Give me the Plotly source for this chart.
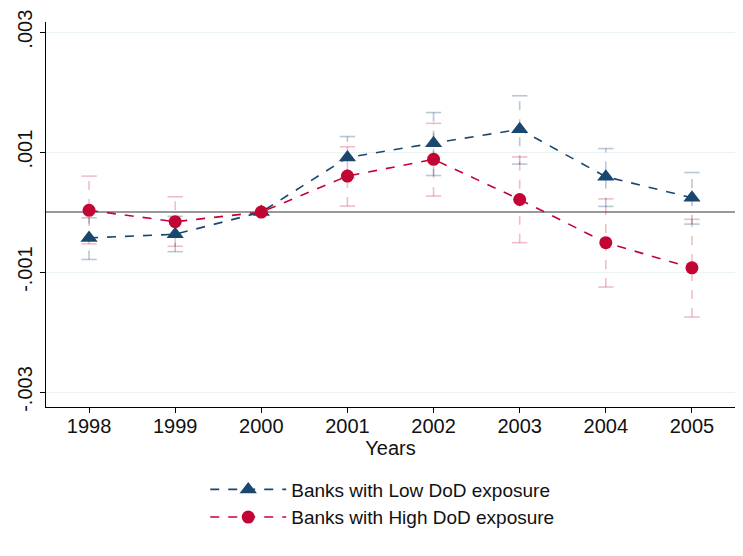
import plotly.graph_objects as go

# Event-study estimates by year (2000 is the reference year)
years = [1998, 1999, 2000, 2001, 2002, 2003, 2004, 2005]

low_coef = [-0.00043, -0.00037, 0.0, 0.00091, 0.00115, 0.00138, 0.00059, 0.00024]
low_ci_lo = [-0.00079, -0.00066, None, 0.00057, 0.00061, 0.00080, 0.000095, -0.00020]
low_ci_hi = [-0.000095, -0.00007, None, 0.00126, 0.00166, 0.00194, 0.00106, 0.00066]

high_coef = [0.00003, -0.00016, 0.0, 0.00060, 0.00088, 0.00021, -0.00051, -0.00093]
high_ci_lo = [-0.00053, -0.00057, None, 0.00010, 0.000267, -0.00051, -0.00125, -0.00175]
high_ci_hi = [0.00060, 0.000255, None, 0.00109, 0.00148, 0.00092, 0.00022, -0.00012]

y_tickvals = [-0.003, -0.001, 0.001, 0.003]
y_ticktext = ["-.003", "-.001", ".001", ".003"]

labels = ["Banks with Low DoD exposure", "Banks with High DoD exposure"]

NAVY = "#1a476f"
CRAN = "#c10534"
NAVY_CI = "rgba(26,71,111,0.30)"
CRAN_CI = "rgba(193,5,52,0.26)"

FONT = "Liberation Sans, Arial, Helvetica, sans-serif"

fig = go.Figure()


def add_ci(xs, lo, hi, color):
    vx, vy, cx, cy = [], [], [], []
    for x, a, b in zip(xs, lo, hi):
        if a is None or b is None:
            continue
        vx += [x, x, None]
        vy += [a, b, None]
        cx += [x, x]
        cy += [a, b]
    # dashed whiskers
    fig.add_trace(go.Scatter(x=vx, y=vy, mode="lines",
                             line=dict(color=color, width=1.6, dash="dash"),
                             showlegend=False, hoverinfo="skip"))
    # caps
    fig.add_trace(go.Scatter(x=cx, y=cy, mode="markers",
                             marker=dict(symbol="line-ew", size=11,
                                         line=dict(color=color, width=1.6)),
                             showlegend=False, hoverinfo="skip"))


add_ci(years, low_ci_lo, low_ci_hi, NAVY_CI)
add_ci(years, high_ci_lo, high_ci_hi, CRAN_CI)

fig.add_trace(go.Scatter(
    x=years, y=low_coef, mode="lines+markers", name=labels[0],
    line=dict(color=NAVY, width=1.6, dash="dash"),
    marker=dict(symbol="triangle-up", size=15, color=NAVY),
))
fig.add_trace(go.Scatter(
    x=years, y=high_coef, mode="lines+markers", name=labels[1],
    line=dict(color=CRAN, width=1.6, dash="dash"),
    marker=dict(symbol="circle", size=13, color=CRAN),
))

fig.update_layout(
    width=743, height=556,
    margin=dict(l=46, r=8, t=22, b=149),
    paper_bgcolor="white", plot_bgcolor="white",
    font=dict(family=FONT, color="#111111", size=19),
    legend=dict(orientation="v", x=0.488, xanchor="center", y=-0.165, yanchor="top",
                font=dict(size=19), itemwidth=76, tracegroupgap=0),
)

fig.update_xaxes(
    range=[1997.5, 2005.5], tickvals=years, ticktext=[str(y) for y in years],
    showgrid=False, zeroline=False,
    showline=True, linecolor="black", linewidth=1.2,
    ticks="outside", ticklen=5, tickcolor="black",
    tickfont=dict(size=20), ticklabelstandoff=-4,
    title=dict(text="Years", font=dict(size=20), standoff=0),
)
fig.update_yaxes(
    range=[-0.00325, 0.00317], tickvals=y_tickvals, ticktext=y_ticktext,
    tickangle=-90, tickfont=dict(size=20),
    showgrid=True, gridcolor="#eaf2f3", gridwidth=1.2,
    zeroline=True, zerolinecolor="#999999", zerolinewidth=1.5,
    showline=True, linecolor="black", linewidth=1.2,
    ticks="outside", ticklen=5, tickcolor="black",
)

fig.write_html("out.html")
